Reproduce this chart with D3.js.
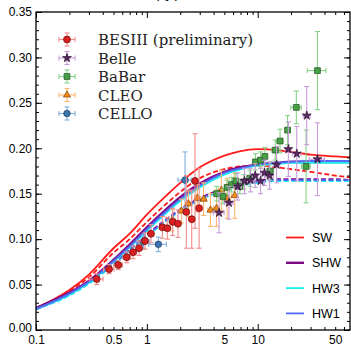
<!DOCTYPE html>
<html><head><meta charset="utf-8">
<script src="https://cdn.jsdelivr.net/npm/d3@7"></script>
<style>
html,body{margin:0;padding:0;background:#fff;}
svg{display:block;}
</style></head>
<body>
<script>
// ---------------- DATA ----------------
const curveX = [0.1,0.2,0.3,0.5,0.7,1,1.5,2,3,5,7,10,15,20,30,50,68];
const swSolid   = [0.024,0.044,0.061,0.090,0.106,0.127,0.148,0.162,0.179,0.192,0.197,0.199,0.198,0.196,0.193,0.191,0.190];
const swDashed  = [0.024,0.043,0.058,0.085,0.100,0.119,0.139,0.152,0.167,0.177,0.180,0.181,0.179,0.177,0.174,0.170,0.168];
const shwSolid  = [0.024,0.041,0.054,0.077,0.094,0.113,0.133,0.146,0.161,0.174,0.179,0.182,0.184,0.185,0.185,0.185,0.185];
const shwDashed = [0.024,0.040,0.053,0.074,0.089,0.105,0.122,0.133,0.145,0.156,0.161,0.164,0.166,0.166,0.166,0.166,0.165];
const hw3Solid  = [0.023,0.039,0.052,0.075,0.091,0.109,0.129,0.142,0.157,0.171,0.177,0.181,0.183,0.184,0.184,0.184,0.184];
const hw3Dashed = [0.023,0.038,0.051,0.072,0.087,0.103,0.120,0.131,0.143,0.154,0.159,0.162,0.164,0.164,0.164,0.164,0.164];
const hw1Solid  = [0.023,0.040,0.053,0.076,0.092,0.111,0.131,0.144,0.159,0.173,0.178,0.182,0.184,0.185,0.186,0.186,0.186];
const hw1Dashed = [0.023,0.039,0.052,0.073,0.088,0.104,0.121,0.132,0.144,0.155,0.160,0.163,0.165,0.165,0.165,0.165,0.165];

const besX    = [0.353,0.456,0.553,0.658,0.751,0.851,0.963,1.09,1.38,1.53,1.71,1.91,2.27,2.54,2.72,2.96];
const besY    = [0.056,0.067,0.0715,0.080,0.0855,0.090,0.098,0.106,0.113,0.112,0.119,0.117,0.130,0.122,0.164,0.134];
const besYErr = [0.006,0.005,0.005,0.006,0.007,0.008,0.009,0.010,0.012,0.012,0.015,0.015,0.040,0.032,0.052,0.044];
const besXErr = [0.05,0.05,0.05,0.05,0.05,0.05,0.05,0.05,0.08,0.08,0.08,0.08,0.1,0.1,0.1,0.1];

const belleX    = [4.48,5.50,6.6,7.6,8.6,9.5,10.6,11.5,12.8,14.8,18.9,22.5,27.7,34.6];
const belleY    = [0.129,0.140,0.158,0.164,0.165,0.170,0.164,0.173,0.170,0.182,0.199,0.194,0.236,0.188];
const belleYErr = [0.022,0.018,0.015,0.014,0.013,0.013,0.014,0.014,0.015,0.020,0.030,0.030,0.032,0.040];
const belleXErr = [0.5,0.5,0.5,0.5,0.5,0.5,0.5,0.5,1,1,1,2,2,5.5];

const babarX    = [4.27,4.85,5.3,5.8,6.34,6.9,7.5,8.5,9.55,10.6,11.6,12.9,14.4,15.9,18.6,22.3,27.3,34.6];
const babarY    = [0.150,0.147,0.157,0.160,0.164,0.158,0.163,0.167,0.185,0.187,0.191,0.175,0.198,0.208,0.220,0.245,0.180,0.2855];
const babarYErr = [0.008,0.008,0.008,0.008,0.008,0.008,0.008,0.009,0.009,0.009,0.010,0.010,0.011,0.013,0.016,0.018,0.040,0.043];
const babarXErr = [0.25,0.25,0.25,0.25,0.25,0.25,0.4,0.5,0.5,0.5,0.5,1,1,1,1,2.4,2.5,6.6];

const cleoX    = [1.70,2.05,2.37,2.85,3.25,3.75,4.25,4.70,5.3,6.2];
const cleoY    = [0.121,0.131,0.139,0.145,0.144,0.132,0.134,0.154,0.145,0.148];
const cleoYErr = [0.012,0.013,0.014,0.015,0.018,0.018,0.020,0.022,0.022,0.025];
const cleoXErr = [0.1,0.1,0.15,0.15,0.2,0.2,0.25,0.25,0.3,0.4];

const celloX    = [0.93,1.27,2.21];
const celloY    = [0.097,0.0943,0.165];
const celloYErr = [0.008,0.008,0.031];
const celloXErr = [0.12,0.23,0.3];

const yTicks = [0,0.05,0.10,0.15,0.20,0.25,0.30,0.35];
const xTickLabels = [0.1,0.5,1,5,10,50];
const legendData = ["BESIII (preliminary)","Belle","BaBar","CLEO","CELLO"];
const legendModels = ["SW","SHW","HW3","HW1"];

// ---------------- SETUP ----------------
const W = 351, H = 349;
const L = 36, R = 350, T = 12, B = 330;
const svg = d3.select("body").append("svg").attr("width", W).attr("height", H);
const x = d3.scaleLog().domain([0.1, 68]).range([L, R]);
const y = d3.scaleLinear().domain([0, 0.35]).range([B, T]);

// partially visible title at the very top (cut off in the reference as well)
svg.append("text").attr("x", 146).attr("y", -2).attr("font-family","Liberation Sans, Arial, sans-serif")
  .attr("font-size", 14).attr("fill","#000").text("F(Q²)");

svg.append("clipPath").attr("id","clip").append("rect")
  .attr("x", L).attr("y", T).attr("width", R-L).attr("height", B-T);
const plot = svg.append("g").attr("clip-path","url(#clip)");

// ---------------- CURVES ----------------
const line = d3.line().x(d => x(d[0])).y(d => y(d[1])).curve(d3.curveMonotoneX);
const colSW = "#ff1a1a", colSHW = "#7d0a85", colHW3 = "#19f0f0", colHW1 = "#5468f2";
const curves = [
  {v: swDashed, c: colSW, dash: true, w: 1.8},
  {v: shwDashed, c: colSHW, dash: true, w: 1.8},
  {v: hw3Dashed, c: colHW3, dash: true, w: 1.8},
  {v: hw1Dashed, c: colHW1, dash: true, w: 1.8},
  {v: swSolid, c: colSW, dash: false, w: 1.8},
  {v: shwSolid, c: colSHW, dash: false, w: 2.6},
  {v: hw3Solid, c: colHW3, dash: false, w: 2.0},
  {v: hw1Solid, c: colHW1, dash: false, w: 1.8}
];
curves.forEach(cv => {
  plot.append("path").datum(curveX.map((xx,i)=>[xx, cv.v[i]]))
    .attr("d", line).attr("fill","none").attr("stroke", cv.c)
    .attr("stroke-width", cv.w).attr("stroke-dasharray", cv.dash ? "5,2.5" : null);
});

// ---------------- DATA POINTS ----------------
const sets = [
  {name:"CELLO", xs:celloX, ys:celloY, ye:celloYErr, xe:celloXErr, sym:d3.symbolCircle, size:34, fill:"#3b76b0", stroke:"#1d3d5c", err:"#7fb0de"},
  {name:"CLEO", xs:cleoX, ys:cleoY, ye:cleoYErr, xe:cleoXErr, sym:d3.symbolTriangle, size:22, fill:"#f28c1c", stroke:"#7a4000", err:"#ffb56b"},
  {name:"BaBar", xs:babarX, ys:babarY, ye:babarYErr, xe:babarXErr, sym:d3.symbolSquare, size:34, fill:"#46a046", stroke:"#1f4d1f", err:"#86d286"},
  {name:"Belle", xs:belleX, ys:belleY, ye:belleYErr, xe:belleXErr, sym:d3.symbolStar, size:24, fill:"#5b2a63", stroke:"#2a1030", err:"#c99ad9"},
  {name:"BESIII", xs:besX, ys:besY, ye:besYErr, xe:besXErr, sym:d3.symbolCircle, size:38, fill:"#d91f1f", stroke:"#6b0b0b", err:"#f28a8a"}
];
const cap = 2.5;
function drawErr(g, cx, cy, x0, x1, y0, y1, col){
  const e = g.append("g").attr("stroke", col).attr("stroke-width", 1.1).attr("fill","none");
  e.append("line").attr("x1",cx).attr("x2",cx).attr("y1",y0).attr("y2",y1);
  e.append("line").attr("x1",x0).attr("x2",x1).attr("y1",cy).attr("y2",cy);
  e.append("line").attr("x1",cx-cap).attr("x2",cx+cap).attr("y1",y0).attr("y2",y0);
  e.append("line").attr("x1",cx-cap).attr("x2",cx+cap).attr("y1",y1).attr("y2",y1);
  e.append("line").attr("x1",x0).attr("x2",x0).attr("y1",cy-cap).attr("y2",cy+cap);
  e.append("line").attr("x1",x1).attr("x2",x1).attr("y1",cy-cap).attr("y2",cy+cap);
}
sets.forEach(s => {
  const g = plot.append("g");
  s.xs.forEach((xx,i) => {
    const cx = x(xx), cy = y(s.ys[i]);
    drawErr(g, cx, cy, x(xx - s.xe[i]), x(xx + s.xe[i]), y(s.ys[i]-s.ye[i]), y(s.ys[i]+s.ye[i]), s.err);
  });
  s.xs.forEach((xx,i) => {
    g.append("path").attr("d", d3.symbol().type(s.sym).size(s.size)())
      .attr("transform", `translate(${x(xx)},${y(s.ys[i])})`)
      .attr("fill", s.fill).attr("stroke", s.stroke).attr("stroke-width", 0.7);
  });
});

// ---------------- AXES ----------------
const font = "Liberation Sans, Arial, Helvetica, sans-serif";
const yMinor = d3.range(0, 0.3501, 0.01);
const xMinor = [];
[0.1,1,10].forEach(d => { for (let k=2;k<=9;k++){ const v=d*k; if (v<=68) xMinor.push(v);} });

function styleAxis(g){
  g.select(".domain").remove();
  g.selectAll("line").attr("stroke","#000").attr("stroke-width",1);
  g.selectAll("text").attr("font-family", font).attr("font-size", 12).attr("fill","#000");
}
// bottom
svg.append("g").attr("transform",`translate(0,${B})`)
  .call(d3.axisBottom(x).tickValues(xMinor).tickSize(-3).tickFormat("")).call(styleAxis);
svg.append("g").attr("transform",`translate(0,${B})`)
  .call(d3.axisBottom(x).tickValues([0.1,1,10]).tickSize(-6).tickFormat("")).call(styleAxis);
svg.append("g").attr("transform",`translate(0,${B})`)
  .call(d3.axisBottom(x).tickValues(xTickLabels).tickSize(0).tickPadding(5).tickFormat(d => String(d))).call(styleAxis);
// top
svg.append("g").attr("transform",`translate(0,${T})`)
  .call(d3.axisTop(x).tickValues(xMinor).tickSize(-3).tickFormat("")).call(styleAxis);
svg.append("g").attr("transform",`translate(0,${T})`)
  .call(d3.axisTop(x).tickValues([0.1,1,10]).tickSize(-6).tickFormat("")).call(styleAxis);
// left
svg.append("g").attr("transform",`translate(${L},0)`)
  .call(d3.axisLeft(y).tickValues(yMinor).tickSize(-3).tickFormat("")).call(styleAxis);
const yAx = svg.append("g").attr("transform",`translate(${L},0)`)
  .call(d3.axisLeft(y).tickValues(yTicks).tickSize(-6).tickPadding(4).tickFormat(d3.format(".2f"))).call(styleAxis);
yAx.selectAll("text").filter(d => d === 0).attr("dy", "0.1em");
// right
svg.append("g").attr("transform",`translate(${R},0)`)
  .call(d3.axisRight(y).tickValues(yMinor).tickSize(-3).tickFormat("")).call(styleAxis);
svg.append("g").attr("transform",`translate(${R},0)`)
  .call(d3.axisRight(y).tickValues(yTicks).tickSize(-6).tickFormat("")).call(styleAxis);
// frame
svg.append("rect").attr("x",L).attr("y",T).attr("width",R-L).attr("height",B-T)
  .attr("fill","none").attr("stroke","#000").attr("stroke-width",1.3);

// ---------------- LEGENDS ----------------
const legOrder = [sets[4], sets[3], sets[2], sets[1], sets[0]];
legOrder.forEach((s,i) => {
  const cy = 39.5 + i*18.5, cx = 67;
  const g = svg.append("g");
  drawErr(g, cx, cy, cx-8, cx+8, cy-6.5, cy+6.5, s.err);
  g.append("path").attr("d", d3.symbol().type(s.sym).size(s.size)())
    .attr("transform", `translate(${cx},${cy})`).attr("fill", s.fill).attr("stroke", s.stroke).attr("stroke-width",0.7);
  g.append("text").attr("x", 98).attr("y", cy+5.5).attr("font-family","DejaVu Serif, serif")
    .attr("font-size", 15).attr("fill","#222").text(legendData[i]);
});
const modelCols = [colSW, colSHW, colHW3, colHW1];
legendModels.forEach((m,i) => {
  const cy = 237.5 + i*25.3;
  svg.append("line").attr("x1",286).attr("x2",304).attr("y1",cy).attr("y2",cy)
    .attr("stroke", modelCols[i]).attr("stroke-width", i===1 ? 2.4 : 1.8);
  svg.append("text").attr("x",312).attr("y",cy+4.5).attr("font-family",font)
    .attr("font-size",12.5).attr("fill","#000").text(m);
});
</script>
</body></html>
